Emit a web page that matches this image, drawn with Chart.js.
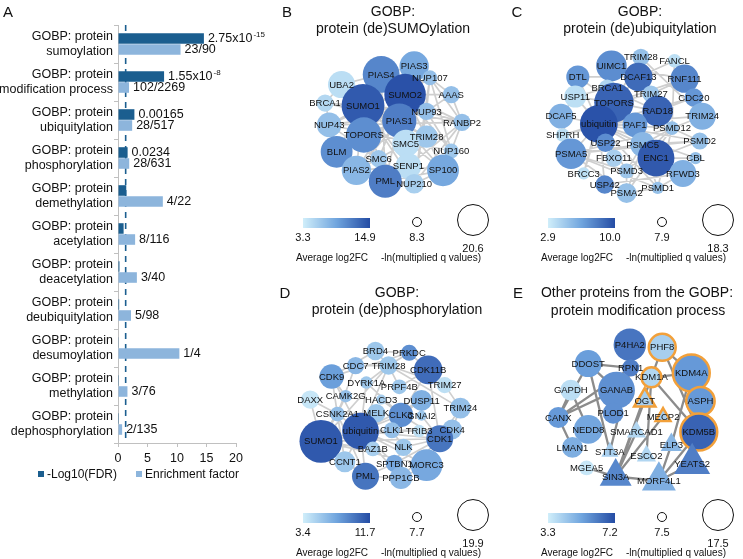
<!DOCTYPE html>
<html><head><meta charset="utf-8">
<script src="https://cdn.jsdelivr.net/npm/chart.js@4.4.1/dist/chart.umd.min.js"></script>
<style>
body{margin:0;background:#fff;width:743px;height:559px;position:relative;overflow:hidden;font-family:"Liberation Sans",Arial,sans-serif;}
canvas{position:absolute;}
.t{position:absolute;white-space:nowrap;color:#111;line-height:1;transform:translate(-50%,-50%);}
.tl{position:absolute;white-space:nowrap;color:#111;line-height:1;transform:translate(0,-50%);}
.sq{position:absolute;width:6px;height:6px;transform:translate(0,-50%);}
.bar{position:absolute;background:linear-gradient(to right,rgb(208,238,250),rgb(112,165,222),rgb(36,76,164));}
.circ{position:absolute;border:1.5px solid #111;border-radius:50%;transform:translate(-50%,-50%);box-sizing:border-box;}
</style></head><body>
<canvas id="cA" width="280" height="470" style="left:0;top:0"></canvas>
<canvas id="cB" width="245" height="270" style="left:250px;top:0"></canvas>
<canvas id="cC" width="248" height="270" style="left:495px;top:0"></canvas>
<canvas id="cD" width="245" height="289" style="left:250px;top:270px"></canvas>
<canvas id="cE" width="248" height="289" style="left:495px;top:270px"></canvas>
<script>
// ---------- Panel A data ----------
const categories = [
  ["GOBP: protein","sumoylation"],["GOBP: protein","modification process"],["GOBP: protein","ubiquitylation"],
  ["GOBP: protein","phosphorylation"],["GOBP: protein","demethylation"],["GOBP: protein","acetylation"],
  ["GOBP: protein","deacetylation"],["GOBP: protein","deubiquitylation"],["GOBP: protein","desumoylation"],
  ["GOBP: protein","methylation"],["GOBP: protein","dephosphorylation"]];
const negLog10FDR = [14.56, 7.81, 2.78, 1.63, 1.4, 0.95, 0.25, 0.2, 0.12, 0.03, 0.02];
const fdrBase = ["2.75x10", "1.55x10", "0.00165", "0.0234", "", "", "", "", "", "", ""];
const fdrExp  = ["-15", "-8", "", "", "", "", "", "", "", "", ""];
const enrichment = [10.6, 1.87, 2.4, 1.9, 7.6, 2.9, 3.2, 2.2, 10.4, 1.6, 0.7];
const ratioText = ["23/90","102/2269","28/517","28/631","4/22","8/116","3/40","5/98","1/4","3/76","2/135"];
const seriesNames = ["-Log10(FDR)", "Enrichment factor"];
const fdrCutoff = 1.3;
const xTicks = [0, 5, 10, 15, 20];

// ---------- Panel B data ----------
const bNames = ['PIAS4','PIAS3','NUP107','UBA2','SUMO2','AAAS','BRCA1','SUMO1','NUP93','PIAS1','RANBP2','NUP43','TOPORS','TRIM28','SMC5','NUP160','BLM','SMC6','SENP1','SP100','PIAS2','PML','NUP210'];
const bX = [133,173,192,85,162,218,65,111,188,155,231,70,112,188,163,218,79,130,166,208,103,138,173];
const bY = [63,53,67,75,87,87,97,100,107,118,120,123,135,137,145,154,155,163,172,177,177,190,193];
const bFC = [10.8,8.5,6.8,4.5,14.3,6.8,5.0,13.7,6.8,11.4,6.8,6.8,10.3,6.2,4.5,6.2,10.3,6.2,4.5,8.5,7.4,11.4,5.6];
const bNLQ = [18.0,15.3,10.1,14.5,19.7,10.9,10.9,20.2,10.9,17.1,10.9,13.6,17.5,12.7,14.5,10.1,16.2,10.9,14.0,16.2,15.3,16.6,11.8];
const bEdges = [
 ['SUMO1','PIAS4'],['SUMO1','PIAS3'],['SUMO1','PIAS1'],['SUMO1','PIAS2'],['SUMO1','TOPORS'],['SUMO1','UBA2'],['SUMO1','BRCA1'],['SUMO1','NUP43'],['SUMO1','BLM'],['SUMO1','SMC5'],['SUMO1','SMC6'],['SUMO1','SENP1'],['SUMO1','PML'],['SUMO1','RANBP2'],['SUMO1','TRIM28'],['SUMO1','SP100'],['SUMO1','SUMO2'],['SUMO1','NUP93'],['SUMO1','NUP210'],
 ['SUMO2','PIAS4'],['SUMO2','PIAS3'],['SUMO2','PIAS1'],['SUMO2','PIAS2'],['SUMO2','UBA2'],['SUMO2','NUP107'],['SUMO2','AAAS'],['SUMO2','RANBP2'],['SUMO2','TRIM28'],['SUMO2','SMC5'],['SUMO2','SENP1'],['SUMO2','SP100'],['SUMO2','PML'],['SUMO2','TOPORS'],['SUMO2','BLM'],['SUMO2','SMC6'],['SUMO2','NUP160'],['SUMO2','NUP93'],
 ['PIAS1','PIAS4'],['PIAS1','PIAS3'],['PIAS1','PIAS2'],['PIAS1','TOPORS'],['PIAS1','PML'],['PIAS1','SP100'],['PIAS1','TRIM28'],['PIAS1','SMC5'],['PIAS1','BRCA1'],
 ['PIAS4','PIAS3'],['PIAS4','UBA2'],['PIAS4','TOPORS'],['PIAS4','PML'],['PIAS4','BLM'],
 ['PIAS2','PML'],['PIAS2','BLM'],['PIAS2','SMC6'],['PIAS2','SENP1'],
 ['PML','SP100'],['PML','SENP1'],['PML','BLM'],['PML','NUP210'],['PML','TOPORS'],
 ['NUP107','NUP93'],['NUP107','NUP160'],['NUP107','NUP210'],['NUP107','NUP43'],['NUP107','AAAS'],['NUP107','RANBP2'],
 ['NUP93','NUP160'],['NUP93','NUP210'],['NUP93','NUP43'],['NUP93','AAAS'],['NUP93','RANBP2'],
 ['RANBP2','NUP160'],['RANBP2','NUP210'],['RANBP2','SENP1'],['RANBP2','NUP43'],['RANBP2','AAAS'],
 ['NUP43','NUP210'],['NUP43','NUP160'],['NUP43','BLM'],['SMC5','SMC6'],['SMC5','TRIM28'],
 ['BRCA1','BLM'],['BRCA1','UBA2'],['SP100','NUP210'],['SP100','SENP1'],['SP100','TRIM28'],['TOPORS','BLM']];

// ---------- Panel C data ----------
const cNames = ['TRIM28','FANCL','UIMC1','DTL','DCAF13','RNF111','BRCA1','USP11','TRIM27','CDC20','TOPORS','RAD18','DCAF5','TRIM24','ubiquitin','PAF1','PSMD12','SHPRH','PSMD2','USP22','PSMC5','PSMA5','FBXO11','ENC1','CBL','PSMD3','BRCC3','RFWD3','USP42','PSMD1','PSMA2'];
const cX = [150,190,115,75,147,202,110,72,162,213,118,170,55,223,100,143,187,57,220,108,152,67,118,168,215,133,82,200,107,170,133];
const cY = [44,48,54,67,67,69,80,90,87,91,97,107,113,113,122,123,127,135,142,144,146,157,162,162,162,177,180,180,193,197,203];
const cFC = [5.0,3.6,7.2,6.8,8.6,7.5,4.0,3.6,4.7,6.8,8.9,8.9,5.7,5.7,9.6,6.8,5.0,3.6,5.0,7.2,5.4,6.8,4.3,9.3,5.0,4.7,3.6,5.7,7.5,5.0,5.0];
const cNLQ = [10.1,9.0,14.2,11.9,13.5,13.5,10.1,11.6,10.1,10.5,16.9,14.2,12.4,13.1,16.4,12.4,9.0,9.0,10.1,10.5,12.4,14.2,10.1,16.1,8.6,9.4,8.6,13.1,10.5,8.6,10.9];
const cEdges = [
 ['TOPORS','ubiquitin'],['TOPORS','UIMC1'],['TOPORS','DCAF13'],['TOPORS','BRCA1'],['TOPORS','RAD18'],['TOPORS','TRIM27'],['TOPORS','USP11'],['TOPORS','DTL'],['TOPORS','PAF1'],['TOPORS','PSMC5'],['TOPORS','USP22'],['TOPORS','ENC1'],['TOPORS','TRIM28'],['TOPORS','RNF111'],
 ['ubiquitin','DCAF5'],['ubiquitin','SHPRH'],['ubiquitin','USP11'],['ubiquitin','DTL'],['ubiquitin','PSMA5'],['ubiquitin','USP22'],['ubiquitin','PSMC5'],['ubiquitin','PSMD12'],['ubiquitin','RAD18'],['ubiquitin','BRCC3'],['ubiquitin','USP42'],['ubiquitin','FBXO11'],['ubiquitin','PSMD3'],['ubiquitin','PSMD1'],['ubiquitin','ENC1'],['ubiquitin','CBL'],['ubiquitin','PAF1'],['ubiquitin','TRIM24'],['ubiquitin','CDC20'],['ubiquitin','PSMD2'],
 ['UIMC1','BRCA1'],['UIMC1','DCAF13'],['UIMC1','BRCC3'],['UIMC1','RNF111'],
 ['DCAF13','DTL'],['DCAF13','TRIM28'],['DCAF13','FANCL'],['DCAF13','RAD18'],
 ['BRCA1','BRCC3'],['BRCA1','USP11'],['BRCA1','RAD18'],['RNF111','CDC20'],['RNF111','TRIM27'],
 ['RAD18','SHPRH'],['RAD18','PSMD12'],['RAD18','CDC20'],
 ['PSMA5','PSMA2'],['PSMA5','PSMD1'],['PSMA5','PSMD3'],['PSMA5','PSMC5'],['PSMA5','PSMD12'],['PSMA5','PSMD2'],
 ['PSMA2','PSMD1'],['PSMA2','PSMD3'],['PSMA2','PSMC5'],['PSMA2','PSMD12'],
 ['PSMC5','PSMD1'],['PSMC5','PSMD3'],['PSMC5','PSMD12'],['PSMC5','PSMD2'],
 ['PSMD12','PSMD2'],['PSMD12','PSMD3'],['PSMD12','PSMD1'],
 ['ENC1','RFWD3'],['ENC1','CBL'],['ENC1','PSMD2'],['RFWD3','PSMD1'],['RFWD3','USP42'],
 ['TRIM24','PSMD12'],['TRIM24','TRIM28'],['DCAF5','USP11'],['DCAF5','SHPRH'],['DCAF5','PSMA5'],['FANCL','RNF111'],['FANCL','PSMD12']];

// ---------- Panel D data ----------
const dNames = ['BRD4','PRKDC','CDC7','TRIM28','CDK11B','CDK9','DYRK1A','PRPF4B','TRIM27','DAXX','CAMK2G','HACD3','DUSP11','TRIM24','CSNK2A1','MELK','CLK3','GNAI2','ubiquitin','CLK1','TRIB3','CDK4','SUMO1','CDK1','BAZ1B','NLK','CCNT1','SPTBN1','MORC3','PML','PPP1CB'];
const dX = [126,167,102,142,190,73,115,155,210,47,90,133,182,229,80,127,157,182,108,146,179,219,60,204,123,160,89,149,188,114,157];
const dY = [70,72,87,87,92,100,107,112,110,127,123,127,128,137,144,143,145,146,164,163,164,162,176,173,185,183,200,202,204,217,219];
const dFC = [5.5,8.4,6.3,5.5,10.0,7.6,5.5,5.5,4.2,3.8,5.9,5.1,6.7,5.9,5.9,5.5,8.4,5.5,10.9,5.9,4.2,5.9,10.9,9.6,5.1,5.5,5.5,7.1,7.1,9.6,6.3];
const dNLQ = [10.7,9.9,10.3,10.7,14.4,12.9,8.6,9.4,9.9,10.7,8.6,7.7,11.6,11.6,9.4,10.7,12.9,7.7,17.3,9.9,8.6,11.2,19.5,13.8,9.4,10.3,11.6,10.3,15.5,13.8,12.1];
const dEdges = [
 ['ubiquitin','SUMO1'],['ubiquitin','CSNK2A1'],['ubiquitin','MELK'],['ubiquitin','CLK1'],['ubiquitin','CLK3'],['ubiquitin','BAZ1B'],['ubiquitin','NLK'],['ubiquitin','PML'],['ubiquitin','CCNT1'],['ubiquitin','SPTBN1'],['ubiquitin','CDK1'],['ubiquitin','TRIM28'],['ubiquitin','CDK9'],['ubiquitin','DYRK1A'],['ubiquitin','TRIB3'],['ubiquitin','CDK4'],['ubiquitin','PPP1CB'],['ubiquitin','MORC3'],['ubiquitin','DUSP11'],
 ['SUMO1','CSNK2A1'],['SUMO1','DAXX'],['SUMO1','CCNT1'],['SUMO1','PML'],['SUMO1','BAZ1B'],['SUMO1','TRIM28'],['SUMO1','CDK1'],['SUMO1','CAMK2G'],['SUMO1','MORC3'],['SUMO1','CLK1'],
 ['CSNK2A1','DAXX'],['CSNK2A1','CAMK2G'],['CSNK2A1','CDK9'],['CSNK2A1','CDC7'],['CSNK2A1','MELK'],['CSNK2A1','CCNT1'],['CSNK2A1','PML'],
 ['CDK1','CDK4'],['CDK1','CLK3'],['CDK1','NLK'],['CDK1','TRIB3'],['CDK1','CDK11B'],['CDK1','GNAI2'],['CDK1','TRIM24'],['CDK1','MORC3'],['CDK1','PPP1CB'],['CDK1','SPTBN1'],
 ['TRIM28','BRD4'],['TRIM28','PRKDC'],['TRIM28','TRIM27'],['TRIM28','TRIM24'],['TRIM28','CDC7'],['TRIM28','DYRK1A'],['TRIM28','PRPF4B'],
 ['CDK11B','PRKDC'],['CDK11B','CLK3'],['CDK11B','PRPF4B'],['CDK11B','CLK1'],
 ['CLK3','CLK1'],['CLK3','DUSP11'],['CLK3','HACD3'],['CLK3','DYRK1A'],
 ['CDK9','CCNT1'],['CDK9','BRD4'],['CDK9','CAMK2G'],['PML','PPP1CB'],['PML','SPTBN1'],['PML','CCNT1'],
 ['PRKDC','BRD4'],['PRKDC','CDK9'],['TRIM24','TRIM27'],['TRIM24','CDK4'],['NLK','SPTBN1'],['NLK','CLK1'],['MORC3','PPP1CB']];

// ---------- Panel E data ----------
const eNames = ['P4HA2','PHF8','DDOST','RPN1','KDM1A','KDM4A','GAPDH','GANAB','OGT','ASPH','CANX','PLOD1','MECP2','NEDD8','SMARCAD1','KDM5B','LMAN1','ELP3','STT3A','ESCO2','YEATS2','MGEA5','SIN3A','MORF4L1'];
const eX = [137,176,87,138,163,211,66,121,155,222,51,117,177,87,145,220,68,187,113,157,212,85,120,172];
const eY = [63,66,85,90,101,96,116,116,128,129,148,143,147,162,165,165,183,180,188,193,202,207,217,222];
const eFC = [6.2,4.1,5.3,6.0,3.9,5.4,3.7,5.6,4.1,5.4,5.4,5.6,4.1,5.1,3.9,6.6,4.9,4.7,4.1,3.9,6.0,3.5,5.8,4.9];
const eNLQ = [14.1,12.5,12.5,9.6,10.4,15.4,10.7,15.4,11.8,12.9,10.7,10.7,9.6,13.0,11.1,15.4,10.7,11.8,10.4,11.1,16.8,8.9,15.4,16.1];
const eShape = ['circle','circle','circle','circle','circle','circle','circle','circle','triangle','circle','circle','circle','triangle','circle','triangle','circle','circle','triangle','triangle','triangle','triangle','circle','triangle','triangle'];
const eGroup = [0,1,0,0,1,1,0,0,1,1,0,0,1,0,0,1,0,0,0,0,0,0,0,0];
const eEdges = [
 ['DDOST','RPN1'],['DDOST','CANX'],['DDOST','GANAB'],['DDOST','STT3A'],['GAPDH','CANX'],['GAPDH','NEDD8'],['GANAB','CANX'],['RPN1','CANX'],['RPN1','STT3A'],['CANX','LMAN1'],
 ['PHF8','KDM1A'],['PHF8','KDM4A'],['PHF8','KDM5B'],['KDM1A','KDM4A'],['KDM1A','KDM5B'],['KDM1A','SIN3A'],['KDM1A','ESCO2'],
 ['OGT','SIN3A'],['MECP2','SIN3A'],['KDM4A','ELP3'],['KDM5B','MORF4L1'],['ELP3','MORF4L1'],['YEATS2','MORF4L1'],['SIN3A','MORF4L1'],['SIN3A','MGEA5'],['SMARCAD1','SIN3A']];

// ---------- helpers ----------
const FONT = '"Liberation Sans", Arial, sans-serif';
function mk(cls, x, y, s, size){
  const d=document.createElement('div'); d.className=cls; if(s!==null) d.textContent=s;
  d.style.left=x+'px'; d.style.top=y+'px'; if(size) d.style.fontSize=size+'px';
  document.body.appendChild(d); return d;
}
function T(x,y,s,size){ return mk('t',x,y,s,size); }
function nodeColor(v, lo, hi){
  let t=(v-lo)/(hi-lo); t=Math.max(0,Math.min(1,t));
  const s=[[0,[208,238,250]],[0.5,[108,160,220]],[1,[34,72,162]]];
  const a = t<=0.5 ? s[0] : s[1], b = t<=0.5 ? s[1] : s[2];
  const u=(t-a[0])/(b[0]-a[0]);
  const c=a[1].map((x,i)=>Math.round(x+(b[1][i]-x)*u));
  return 'rgb('+c.join(',')+')';
}
function legend(px, py, fcLo, fcHi, nLo, nHi){
  const L = py + 218;
  const b = document.createElement('div'); b.className='bar';
  Object.assign(b.style,{left:(px+53)+'px',top:L+'px',width:'67px',height:'10px'});
  document.body.appendChild(b);
  T(px+53, L+19, fcLo.toFixed(1), 11);
  T(px+115, L+19, fcHi.toFixed(1), 11);
  T(px+82, L+40, 'Average log2FC', 10);
  const c1=mk('circ',px+167,L+4,null); c1.style.width='10px'; c1.style.height='10px';
  T(px+167, L+19, nLo.toFixed(1), 11);
  const c2=mk('circ',px+223,L+2,null); c2.style.width='32px'; c2.style.height='32px';
  T(px+223, L+30, nHi.toFixed(1), 11);
  T(px+181, L+40, '-ln(multiplied q values)', 10);
}
function makeNetwork(c){
  const idx={}; c.names.forEach((n,i)=>idx[n]=i);
  const nodePts=c.names.map((n,i)=>({x:c.x[i],y:c.y[i]}));
  const edgePts=[];
  c.edges.forEach(([a,b])=>{const i=idx[a],j=idx[b]; if(i===undefined||j===undefined) return;
    edgePts.push({x:c.x[i],y:c.y[i]},{x:c.x[j],y:c.y[j]},{x:NaN,y:NaN});});
  const rad=i=>5+(c.nlq[i]-c.nLo)/(c.nHi-c.nLo)*17;
  const cv=document.getElementById(c.id);
  const lbl={id:'nodeLabels',afterDatasetsDraw(ch){
    const ctx=ch.ctx, meta=ch.getDatasetMeta(0); ctx.save();
    ctx.font='9.5px '+FONT; ctx.fillStyle='#111'; ctx.textAlign='center'; ctx.textBaseline='middle';
    meta.data.forEach((p,i)=>ctx.fillText(c.names[i],p.x,p.y+0.5)); ctx.restore();}};
  new Chart(cv,{type:'scatter',data:{datasets:[
    {data:nodePts, order:0, clip:false,
     pointRadius:ctx=>rad(ctx.dataIndex), pointHoverRadius:ctx=>rad(ctx.dataIndex),
     pointStyle:ctx=>c.shape?c.shape[ctx.dataIndex]:'circle',
     pointBackgroundColor:ctx=>nodeColor(c.fc[ctx.dataIndex],c.fcLo,c.fcHi),
     pointBorderColor:ctx=>(c.group&&c.group[ctx.dataIndex])?'#f2a03a':'rgba(0,0,0,0)',
     pointBorderWidth:ctx=>(c.group&&c.group[ctx.dataIndex])?2.5:0},
    {data:edgePts, order:1, clip:false, showLine:true, spanGaps:false, pointRadius:0, pointHoverRadius:0,
     borderColor:c.edgeColor, borderWidth:c.edgeWidth}
  ]},options:{responsive:false,animation:false,devicePixelRatio:1,events:[],layout:{padding:0},
    plugins:{legend:{display:false},tooltip:{enabled:false}},
    scales:{x:{type:'linear',min:0,max:cv.width,display:false},y:{type:'linear',min:0,max:cv.height,reverse:true,display:false}}},
    plugins:[lbl]});
}

// ---------- Panel A chart ----------
const dark='#1b5e8f', light='#8db5dc';
const barLabels={id:'barLabels',
  beforeDatasetsDraw(ch){
    const ctx=ch.ctx, x=ch.scales.x.getPixelForValue(fdrCutoff), a=ch.chartArea;
    ctx.save(); ctx.strokeStyle=dark; ctx.lineWidth=1.6; ctx.setLineDash([6,5]);
    ctx.beginPath(); ctx.moveTo(x,a.top); ctx.lineTo(x,a.bottom); ctx.stroke(); ctx.restore();
  },
  afterDatasetsDraw(ch){
    const ctx=ch.ctx; ctx.save(); ctx.fillStyle='#111'; ctx.textBaseline='middle'; ctx.textAlign='left';
    ch.getDatasetMeta(0).data.forEach((b,i)=>{
      if(!fdrBase[i]) return;
      ctx.font='12.5px '+FONT; ctx.fillText(fdrBase[i], b.x+4, b.y+0.5);
      if(fdrExp[i]){ const w=ctx.measureText(fdrBase[i]).width; ctx.font='8px '+FONT; ctx.fillText(fdrExp[i], b.x+5+w, b.y-4); }
    });
    ch.getDatasetMeta(1).data.forEach((b,i)=>{ ctx.font='12.5px '+FONT; ctx.fillText(ratioText[i], b.x+4, b.y+0.5); });
    ctx.restore();
  }};
new Chart(document.getElementById('cA'),{type:'bar',
  data:{labels:categories,datasets:[
    {label:seriesNames[0],data:negLog10FDR,backgroundColor:dark,categoryPercentage:0.58,barPercentage:0.96},
    {label:seriesNames[1],data:enrichment,backgroundColor:light,categoryPercentage:0.58,barPercentage:0.96}]},
  options:{indexAxis:'y',responsive:false,animation:false,devicePixelRatio:1,events:[],
    layout:{padding:{top:25,right:44,left:0,bottom:0}},
    plugins:{tooltip:{enabled:false},legend:{display:false}},
    scales:{
      x:{min:0,max:20,afterBuildTicks(s){s.ticks=xTicks.map(v=>({value:v}));},
         ticks:{color:'#111',font:{size:12.5,family:FONT},padding:4},
         grid:{drawOnChartArea:false,tickLength:4,color:'#c0c0c0'},border:{color:'#c0c0c0'}},
      y:{ticks:{color:'#111',font:{size:12.5,family:FONT},padding:1,autoSkip:false},
         grid:{drawOnChartArea:false,offset:true,tickLength:4,color:'#c0c0c0'},border:{color:'#c0c0c0'},
         afterFit(s){s.width=118;}}
    }},
  plugins:[barLabels]});
// legend of panel A
const s1=mk('sq',38,474,null); s1.style.background=dark;
mk('tl',47,474,seriesNames[0],12);
const s2=mk('sq',136,474,null); s2.style.background=light;
mk('tl',145,474,seriesNames[1],12);

// ---------- Networks ----------
makeNetwork({id:'cB',names:bNames,x:bX,y:bY,fc:bFC,nlq:bNLQ,edges:bEdges,fcLo:3.3,fcHi:14.9,nLo:8.3,nHi:20.6,edgeColor:'#cfcfcf',edgeWidth:1.7});
makeNetwork({id:'cC',names:cNames,x:cX,y:cY,fc:cFC,nlq:cNLQ,edges:cEdges,fcLo:2.9,fcHi:10.0,nLo:7.9,nHi:18.3,edgeColor:'#cfcfcf',edgeWidth:1.7});
makeNetwork({id:'cD',names:dNames,x:dX,y:dY,fc:dFC,nlq:dNLQ,edges:dEdges,fcLo:3.4,fcHi:11.7,nLo:7.7,nHi:19.9,edgeColor:'#cfcfcf',edgeWidth:1.7});
makeNetwork({id:'cE',names:eNames,x:eX,y:eY,fc:eFC,nlq:eNLQ,edges:eEdges,shape:eShape,group:eGroup,fcLo:3.3,fcHi:7.2,nLo:7.5,nHi:17.5,edgeColor:'#8c8c8c',edgeWidth:2.3});

// ---------- Texts ----------
T(8,11,'A',15); T(287,11,'B',15); T(517,11,'C',15); T(285,292,'D',15); T(518,292,'E',15);
T(393,11,'GOBP:',14); T(393,28,'protein (de)SUMOylation',14);
T(640,11,'GOBP:',14); T(640,28,'protein (de)ubiquitylation',14);
T(397,292,'GOBP:',14); T(397,309,'protein (de)phosphorylation',14);
T(637,292,'Other proteins from the GOBP:',14); T(638,310,'protein modification process',14);
legend(250,0,3.3,14.9,8.3,20.6);
legend(495,0,2.9,10.0,7.9,18.3);
legend(250,295,3.4,11.7,7.7,19.9);
legend(495,295,3.3,7.2,7.5,17.5);
</script>
</body></html>
